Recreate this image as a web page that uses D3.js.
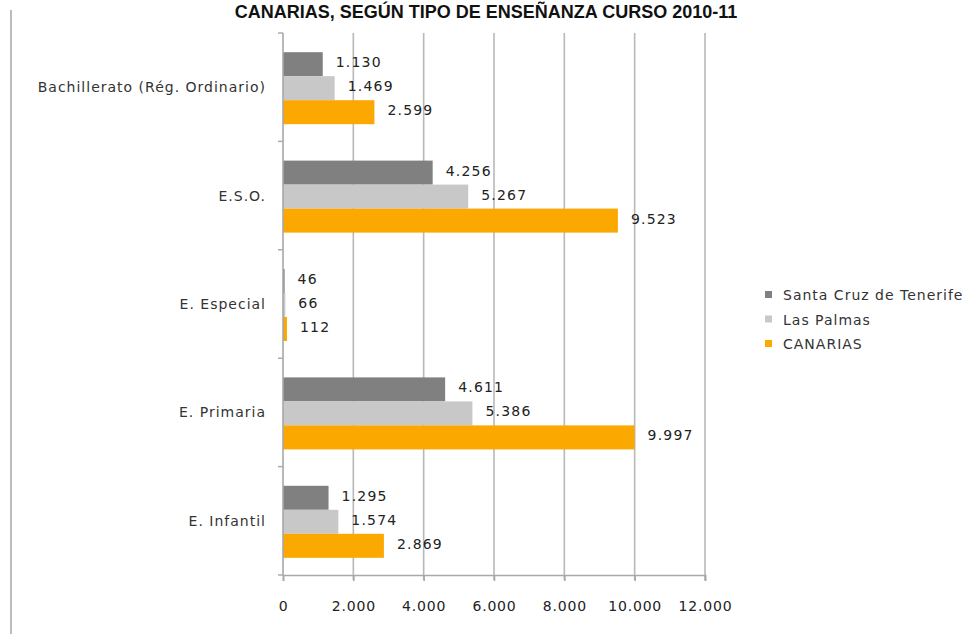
<!DOCTYPE html>
<html>
<head>
<meta charset="utf-8">
<script src="https://cdn.jsdelivr.net/npm/d3@7"></script>
<style>
  html, body { margin: 0; padding: 0; background: #fff; }
  svg { display: block; }
</style>
</head>
<body>
<svg id="chart" width="973" height="634"></svg>
<script>
const title = "CANARIAS, SEGÚN TIPO DE ENSEÑANZA CURSO 2010-11";
const categories = ["Bachillerato (Rég. Ordinario)", "E.S.O.", "E. Especial", "E. Primaria", "E. Infantil"];
const seriesNames = ["Santa Cruz de Tenerife", "Las Palmas", "CANARIAS"];
const santaCruz = [1130, 4256, 46, 4611, 1295];
const lasPalmas = [1469, 5267, 66, 5386, 1574];
const canarias = [2599, 9523, 112, 9997, 2869];
const xTicks = [0, 2000, 4000, 6000, 8000, 10000, 12000];
const colors = ["#808080", "#c8c8c8", "#fba800"];

(function () {
const seriesValues = [santaCruz, lasPalmas, canarias];

const svg = d3.select("#chart");
const fmtLocale = d3.formatLocale({decimal: ",", thousands: ".", grouping: [3], currency: ["", "€"]});
const fmt = fmtLocale.format(",d");
const FONT = "DejaVu Sans, sans-serif";

const mLeft = 283, mRight = 705, mTop = 33, mBottom = 575;

const x = d3.scaleLinear().domain([0, 12000]).range([mLeft, mRight]);
const y = d3.scaleBand().domain(categories).range([mTop, mBottom]).paddingInner(0).paddingOuter(0);
const barH = 24;
const inner = d3.scaleBand().domain(seriesNames).range([0, barH * 3]);

// frame line on the left
svg.append("line").attr("x1", 11).attr("x2", 11).attr("y1", 10).attr("y2", 634)
  .attr("stroke", "#bcbcbc").attr("stroke-width", 2);

// title
svg.append("text").attr("x", 486).attr("y", 18).attr("text-anchor", "middle")
  .attr("font-family", "Liberation Sans, Arial, sans-serif").attr("font-weight", "bold")
  .attr("font-size", 18).attr("fill", "#111").text(title);

// gridlines
svg.append("g").selectAll("line").data(xTicks.slice(1)).join("line")
  .attr("x1", d => x(d)).attr("x2", d => x(d)).attr("y1", mTop).attr("y2", mBottom + 5)
  .attr("stroke", "#b8b8b8").attr("stroke-width", 1.6);

// bars
const groups = svg.append("g").selectAll("g").data(categories).join("g")
  .attr("transform", d => `translate(0,${y(d) + (y.bandwidth() - barH * 3) / 2 + 1})`);

groups.each(function(cat, ci) {
  const g = d3.select(this);
  seriesNames.forEach((s, si) => {
    const v = seriesValues[si][ci];
    g.append("rect").attr("x", x(0)).attr("y", inner(s))
      .attr("width", Math.max(0, x(v) - x(0))).attr("height", inner.bandwidth())
      .attr("fill", colors[si]);
    g.append("text").attr("x", x(v) + 13).attr("y", inner(s) + inner.bandwidth() / 2 + 3)
      .attr("font-family", FONT).attr("font-size", 14).attr("letter-spacing", 1.2)
      .attr("fill", "#222").text(fmt(v));
  });
});

// y axis
const yAxis = svg.append("g").attr("transform", `translate(${mLeft},0)`);
yAxis.append("line").attr("x1", 0).attr("x2", 0).attr("y1", mTop).attr("y2", mBottom)
  .attr("stroke", "#a8a8a8").attr("stroke-width", 1.6);
yAxis.selectAll("line.tk").data(categories.map(c => y(c)).concat([mBottom])).join("line")
  .attr("class", "tk").attr("x1", -5).attr("x2", 0).attr("y1", d => d).attr("y2", d => d)
  .attr("stroke", "#a8a8a8").attr("stroke-width", 1.4);
yAxis.selectAll("text").data(categories).join("text")
  .attr("x", -17).attr("y", d => y(d) + y.bandwidth() / 2 + 5)
  .attr("text-anchor", "end").attr("font-family", FONT)
  .attr("font-size", 14).attr("letter-spacing", 1).attr("fill", "#333").text(d => d);

// x axis
const xAxis = svg.append("g").attr("transform", `translate(0,${mBottom})`)
  .call(d3.axisBottom(x).tickValues(xTicks).tickFormat(d => fmt(d)).tickSize(6).tickPadding(20));
xAxis.select(".domain").attr("stroke", "#a8a8a8").attr("stroke-width", 1.6);
xAxis.selectAll(".tick line").attr("stroke", "#a8a8a8").attr("stroke-width", 1.6);
xAxis.selectAll(".tick text").attr("font-family", FONT)
  .attr("font-size", 14).attr("letter-spacing", 0.8).attr("fill", "#222");

// legend
const legend = svg.append("g").attr("transform", "translate(765,296)");
seriesNames.forEach((s, i) => {
  const row = legend.append("g").attr("transform", `translate(0,${i * 24.5})`);
  row.append("rect").attr("x", 0).attr("y", -5).attr("width", 7).attr("height", 7).attr("fill", colors[i]);
  row.append("text").attr("x", 18).attr("y", 4).attr("font-family", FONT)
    .attr("font-size", 14).attr("letter-spacing", 1).attr("fill", "#333").text(s);
});
})();
</script>
</body>
</html>
